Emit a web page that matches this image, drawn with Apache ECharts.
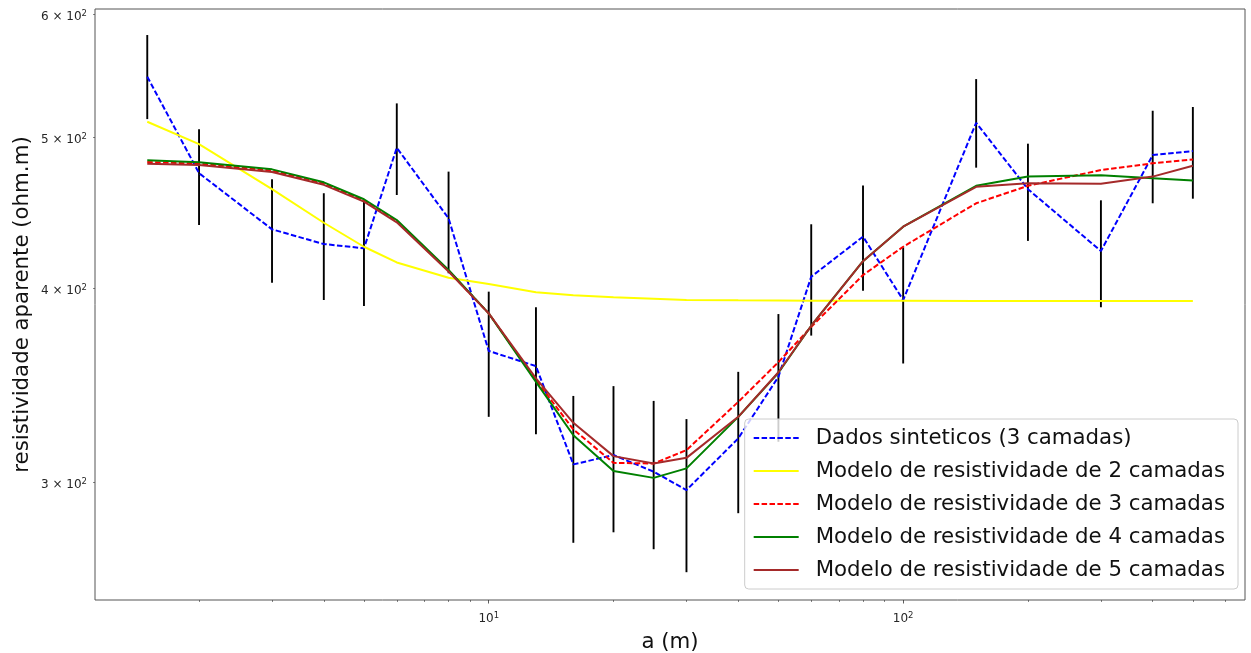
<!DOCTYPE html>
<html>
<head>
<meta charset="utf-8">
<script src="https://cdn.jsdelivr.net/npm/echarts@6/dist/echarts.min.js"></script>
<style>
html,body{margin:0;padding:0;background:#fff;}
#chart{width:1251px;height:653px;}
</style>
</head>
<body>
<div id="chart"></div>
<script>
// ---- data ----
const aValues = [1.5, 2, 3, 4, 5, 6, 8, 10, 13, 16, 20, 25, 30, 40, 50, 60, 80, 100, 150, 200, 300, 400, 500];
const dadosSinteticos = [547.3, 474.4, 436.5, 427.1, 424.4, 492.6, 443.7, 364.5, 356.4, 308.1, 312.4, 304.8, 296.6, 320.2, 350.8, 406.9, 431.8, 393.1, 511.2, 463.3, 422.7, 487.3, 490.2];
const errLow  = [514.0, 439.3, 403.3, 393.1, 389.6, 459.3, 409.0, 330.6, 322.2, 274.3, 278.6, 271.7, 262.6, 286.6, 318.6, 372.9, 398.6, 357.8, 478.3, 429.1, 388.9, 453.7, 456.8];
const errHigh = [582.2, 506.4, 470.2, 460.5, 454.8, 526.1, 475.5, 398.0, 388.9, 341.0, 346.0, 338.5, 329.5, 353.4, 385.0, 439.8, 465.8, 425.0, 545.4, 495.6, 455.7, 520.4, 523.3];
const modelo2 = [512.0, 495.3, 463.3, 440.8, 425.4, 415.6, 406.3, 402.5, 397.6, 395.9, 394.7, 393.9, 393.1, 392.9, 392.8, 392.7, 392.6, 392.6, 392.5, 392.5, 392.5, 392.5, 392.5];
const modelo3 = [482.3, 481.2, 476.2, 467.2, 455.6, 441.8, 410.5, 385.4, 349.1, 324.5, 308.8, 308.5, 314.7, 338.0, 358.5, 377.8, 407.9, 425.4, 453.7, 465.6, 476.6, 481.4, 484.2];
const modelo4 = [483.5, 482.1, 477.1, 468.0, 456.4, 442.6, 411.0, 385.4, 348.2, 321.7, 305.1, 302.0, 306.3, 330.6, 352.9, 378.4, 416.4, 438.2, 465.6, 472.0, 473.0, 470.9, 469.2];
const modelo5 = [481.1, 480.2, 475.2, 466.3, 454.8, 441.1, 410.1, 385.4, 350.0, 327.7, 311.9, 308.5, 311.1, 330.6, 353.2, 378.4, 416.4, 438.2, 464.9, 467.4, 467.1, 472.0, 479.7];

const seriesNames = [
  'Dados sinteticos (3 camadas)',
  'Modelo de resistividade de 2 camadas',
  'Modelo de resistividade de 3 camadas',
  'Modelo de resistividade de 4 camadas',
  'Modelo de resistividade de 5 camadas'
];
const xMajorTicks = [10, 100];
const xMinorTicks = [2, 3, 4, 5, 6, 7, 8, 9, 20, 30, 40, 50, 60, 70, 80, 90, 200, 300, 400, 500, 600];
const yTicks = [300, 400, 500, 600];
const xRange = [1.122, 668];
const yRange = [252.0, 605.1];

// ---- build ----
const FONT = 'DejaVu Sans';
const pairs = arr => aValues.map((x, i) => [x, arr[i]]);
const errData = aValues.map((x, i) => [x, errLow[i], errHigh[i]]);

const chart = echarts.init(document.getElementById('chart'), null, {renderer: 'canvas'});

const supRich = {
  a: {fontFamily: FONT, fontSize: 12, color: '#262626', lineHeight: 15},
  b: {fontFamily: FONT, fontSize: 8.5, color: '#262626', lineHeight: 10, verticalAlign: 'top'}
};

function lineSeries(name, data, color, dashed) {
  return {
    name: name,
    type: 'line',
    data: pairs(data),
    xAxisIndex: 0,
    symbol: 'none',
    showSymbol: false,
    smooth: false,
    animation: false,
    lineStyle: {color: color, width: 2, type: dashed ? [5.5, 2.4] : 'solid'},
    itemStyle: {color: color},
    z: 3
  };
}

const option = {
  backgroundColor: '#ffffff',
  animation: false,
  grid: {
    left: 95, right: 6, top: 9, bottom: 53,
    outerBoundsMode: 'none',
    containLabel: false,
    show: true, borderColor: '#555555', borderWidth: 1, backgroundColor: 'transparent'
  },
  xAxis: [
    {
      type: 'log', logBase: 10, min: xRange[0], max: xRange[1],
      position: 'bottom',
      name: 'a (m)', nameLocation: 'middle', nameGap: 31, nameMoveOverlap: false,
      nameTextStyle: {fontFamily: FONT, fontSize: 21.3, color: '#111', lineHeight: 22},
      axisLine: {show: false},
      splitLine: {show: false},
      minorTick: {show: false},
      axisTick: {show: true, inside: false, length: 3.5, lineStyle: {color: '#333', width: 0.8}, customValues: xMajorTicks},
      axisLabel: {
        show: true, margin: 11, customValues: xMajorTicks,
        formatter: v => '{a|10}{b|' + Math.round(Math.log10(v)) + '}',
        rich: supRich
      }
    },
    {
      type: 'log', logBase: 10, min: xRange[0], max: xRange[1],
      position: 'bottom',
      axisLine: {show: false},
      splitLine: {show: false},
      axisTick: {show: true, inside: false, length: 2, lineStyle: {color: '#333', width: 0.6}, customValues: xMinorTicks},
      axisLabel: {show: false}
    }
  ],
  yAxis: {
    type: 'log', logBase: 10, min: yRange[0], max: yRange[1],
    name: 'resistividade aparente (ohm.m)', nameLocation: 'middle', nameGap: 62, nameMoveOverlap: false,
    nameTextStyle: {fontFamily: FONT, fontSize: 21.3, color: '#111', lineHeight: 22},
    axisLine: {show: false},
    splitLine: {show: false},
    axisTick: {show: true, inside: false, length: 2, lineStyle: {color: '#333', width: 0.6}, customValues: yTicks},
    axisLabel: {
      show: true, margin: 8, customValues: yTicks,
      padding: [5, 0, 0, 0],
      formatter: v => '{a|' + Math.round(v / 100) + ' × 10}{b|2}',
      rich: supRich
    }
  },
  legend: {
    data: seriesNames,
    orient: 'vertical',
    right: 13, top: 419,
    padding: [8, 13, 8, 8],
    itemGap: 11,
    itemWidth: 45, itemHeight: 14,
    itemStyle: {opacity: 0},
    textStyle: {fontFamily: FONT, fontSize: 21.3, color: '#111', lineHeight: 22, padding: [0, 0, 0, 12]},
    backgroundColor: 'rgba(255,255,255,0.8)',
    borderColor: '#cccccc', borderWidth: 1, borderRadius: 4,
    selectedMode: false
  },
  series: [
    {
      name: 'errorbars',
      type: 'custom',
      xAxisIndex: 0,
      data: errData,
      encode: {x: 0, y: [1, 2]},
      z: 2,
      silent: true,
      animation: false,
      renderItem: function (params, api) {
        const p1 = api.coord([api.value(0), api.value(1)]);
        const p2 = api.coord([api.value(0), api.value(2)]);
        return {
          type: 'line',
          shape: {x1: p1[0], y1: p1[1], x2: p2[0], y2: p2[1]},
          style: {stroke: '#000000', lineWidth: 1.9}
        };
      }
    },
    lineSeries(seriesNames[0], dadosSinteticos, '#0000ff', true),
    lineSeries(seriesNames[1], modelo2, '#ffff00', false),
    lineSeries(seriesNames[2], modelo3, '#ff0000', true),
    lineSeries(seriesNames[3], modelo4, '#008000', false),
    lineSeries(seriesNames[4], modelo5, '#a52a2a', false)
  ]
};
chart.setOption(option);
</script>
</body>
</html>
